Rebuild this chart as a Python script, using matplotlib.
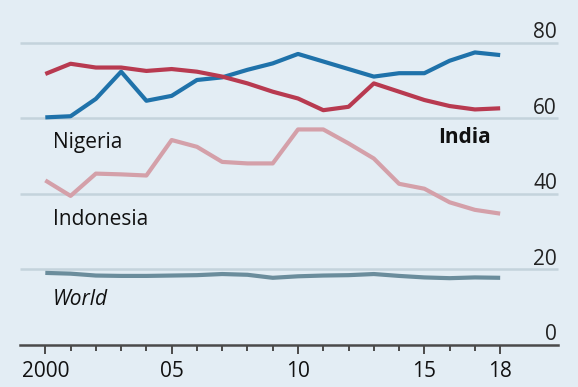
import matplotlib

matplotlib.use("Agg")
import matplotlib.pyplot as plt

years = list(range(2000, 2019))
nigeria = [60.3, 60.6, 65.2, 72.4, 64.7, 66.0, 70.2, 70.9, 72.9, 74.6, 77.1,
           75.1, 73.1, 71.1, 72.0, 72.0, 75.3, 77.5, 76.8]
india = [71.8, 74.5, 73.5, 73.5, 72.6, 73.1, 72.4, 71.1, 69.3, 67.1, 65.3,
         62.2, 63.1, 69.3, 67.1, 64.9, 63.3, 62.4, 62.7]
indonesia = [43.6, 39.5, 45.4, 45.2, 44.9, 54.3, 52.5, 48.5, 48.1, 48.1, 57.1,
             57.1, 53.4, 49.4, 42.7, 41.4, 37.8, 35.8, 34.8]
world = [19.1, 18.9, 18.4, 18.3, 18.3, 18.4, 18.5, 18.8, 18.6, 17.8, 18.2,
         18.4, 18.5, 18.8, 18.3, 17.9, 17.7, 17.9, 17.8]

y_ticks = [0, 20, 40, 60, 80]
x_ticks = [2000, 2005, 2010, 2015, 2018]
x_tick_labels = ["2000", "05", "10", "15", "18"]

BG = "#e3edf4"
GRID = "#c4d3dc"

plt.rcParams["font.family"] = ["Open Sans", "DejaVu Sans"]

fig = plt.figure(figsize=(5.78, 3.87), dpi=100, facecolor=BG)
ax = fig.add_axes([0, 42 / 387, 1, 345 / 387])
ax.set_facecolor(BG)
ax.set_xlim(1998.207, 2021.08)
ax.set_ylim(0, 91.39)

# horizontal gridlines with their value labels sitting just above, right-aligned
x0, x1 = 1999.01, 2020.3
for v in y_ticks[1:]:
    ax.hlines(v, x0, x1, color=GRID, lw=1.8, zorder=1)
    ax.text(2020.25, v + 1.3, str(v), ha="right", va="baseline",
            fontsize=15, color="#222222")
ax.text(2020.25, 1.3, "0", ha="right", va="baseline", fontsize=15, color="#222222")

ax.plot(years, world, color="#6b8d9c", lw=3, solid_capstyle="butt", zorder=3)
ax.plot(years, indonesia, color="#d4a0a9", lw=3, solid_capstyle="butt", zorder=3)
ax.plot(years, nigeria, color="#1f72aa", lw=3, solid_capstyle="butt", zorder=4)
ax.plot(years, india, color="#b83a50", lw=3, solid_capstyle="butt", zorder=5)

ax.text(2000.29, 52.2, "Nigeria", fontsize=15, color="#111111", va="baseline")
ax.text(2017.63, 53.5, "India", fontsize=15, fontweight="bold", color="#111111",
        ha="right", va="baseline")
ax.text(2000.29, 31.8, "Indonesia", fontsize=15, color="#111111", va="baseline")
ax.text(2000.29, 10.6, "World", fontsize=15, style="italic", color="#111111",
        va="baseline")

for side in ("left", "right", "top"):
    ax.spines[side].set_visible(False)
ax.spines["bottom"].set_bounds(x0, x1)
ax.spines["bottom"].set_color("#4a4a4a")
ax.spines["bottom"].set_linewidth(1.8)
ax.spines["bottom"].set_zorder(6)

ax.set_yticks([])
ax.set_xticks(x_ticks)
ax.set_xticklabels(x_tick_labels, fontsize=15, color="#111111")
ax.set_xticks(years, minor=True)
ax.tick_params(axis="x", which="major", direction="out", length=6.5, width=1.4,
               color="#4a4a4a", pad=5)
ax.tick_params(axis="x", which="minor", direction="out", length=4.3, width=1.4,
               color="#4a4a4a")

fig.savefig("out.png", dpi=100, facecolor=BG)
